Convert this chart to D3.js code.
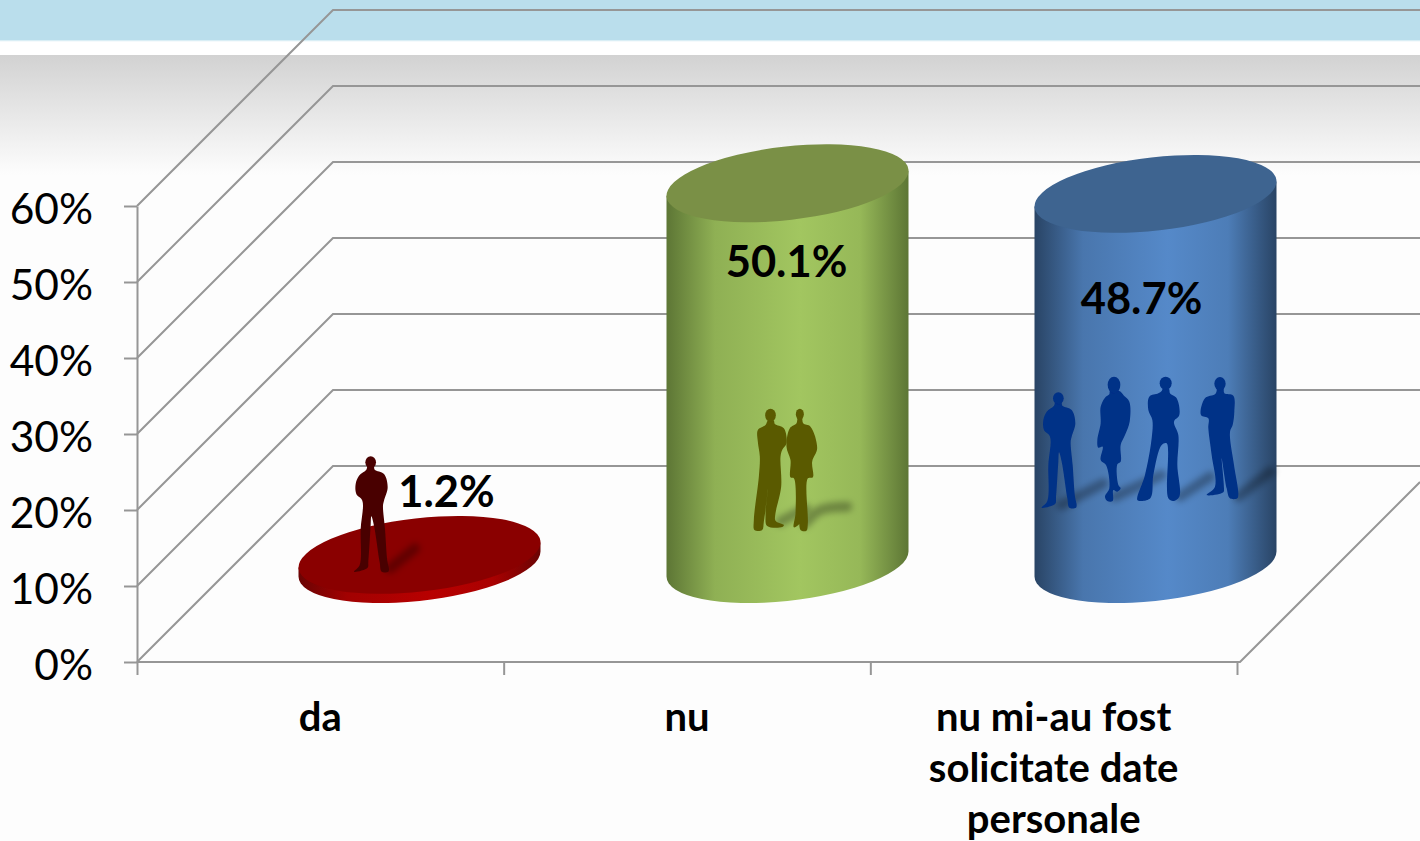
<!DOCTYPE html>
<html lang="en">
<head>
  <meta charset="UTF-8">
  <title>Date personale</title>
  <style>
    html, body { margin: 0; padding: 0; background: #fdfdfd; overflow: hidden; }
    svg { display: block; font-family: Lato, "Open Sans", sans-serif; }
    .axis path, .axis line, .grid { stroke: #969696; stroke-width: 2; fill: none; }
    .axis text { fill: #000; font-size: 42.5px; font-family: Lato, "Open Sans", sans-serif; }
    .value, .cat { font-weight: 700; fill: #000; text-anchor: middle; }
    .value { font-size: 43.5px; }
    .cat { font-size: 40px; }
  </style>
</head>
<body>
  <svg id="chart" width="1420" height="841"></svg>
  <script src="https://d3js.org/d3.v7.min.js"></script>
  <script>
    const categories = ["da", "nu", "nu mi-au fost|solicitate date|personale"];
    const values = [1.2, 50.1, 48.7];
    const valueLabels = ["1.2%", "50.1%", "48.7%"];
    const yTicks = [0, 10, 20, 30, 40, 50, 60];

    const themes = [
      { edge: "#6a0404", mid: "#b80000", top: "#8a0000", man: "#4a0000" },
      { edge: "#5d7635", mid: "#a2c660", top: "#7a9046", man: "#5a5a00" },
      { edge: "#294465", mid: "#5589c9", top: "#3e6490", man: "#003087" }
    ];

    // silhouette outlines, drawn at 3x and scaled down. head = cx, cy, rx, ry
    const manCrossed = { head: [85, 100, 16, 18], body: [[94,112],[97,122],[125,135],[136,175],[125,215],[122,230],[128,300],[135,395],[140,420],[138,428],[118,428],[112,400],[95,290],[87,262],[85,290],[78,400],[76,416],[35,428],[52,408],[55,300],[60,215],[42,195],[40,165],[50,140],[72,122],[76,112]] };
    const manSide = { head: [570, 56, 17, 20], body: [[561,70],[580,70],[583,85],[610,92],[613,140],[608,180],[600,200],[612,300],[625,385],[622,400],[600,400],[590,370],[575,280],[582,370],[580,382],[530,390],[555,365],[545,270],[535,190],[535,160],[513,150],[525,100],[555,88],[560,78]] };
    const womanSkirt = { head: [252, 60, 19, 25], body: [[240,78],[268,78],[282,92],[298,110],[299,170],[285,210],[272,240],[272,290],[262,298],[265,360],[272,370],[262,380],[250,375],[248,408],[232,408],[225,395],[238,370],[228,300],[212,285],[218,245],[205,248],[202,225],[212,175],[212,125],[225,98],[238,88]] };
    const womanTrousers = { head: [407, 55, 18, 20], body: [[398,72],[417,72],[420,85],[440,100],[448,150],[432,170],[445,210],[442,300],[448,395],[430,408],[415,400],[410,235],[395,240],[370,330],[362,398],[335,408],[322,405],[345,330],[365,220],[367,165],[355,135],[358,95],[385,85],[395,78]] };
    const manLeft = { head: [120, 76, 16, 20], body: [[112,92],[130,92],[133,102],[160,115],[168,160],[155,180],[150,200],[152,290],[135,370],[135,392],[160,405],[155,411],[110,408],[105,375],[113,295],[100,395],[95,420],[72,420],[70,390],[85,260],[88,200],[82,155],[82,120],[105,105]] };
    const manCoat = { head: [208, 73, 12, 17], body: [[202,85],[214,85],[218,100],[240,110],[260,175],[245,215],[247,262],[232,265],[232,400],[228,422],[210,420],[212,320],[208,400],[190,412],[195,370],[190,265],[180,262],[180,210],[168,170],[178,115],[198,100]] };

    const people = [[manCrossed], [manLeft, manCoat], [manCrossed, womanSkirt, womanTrousers, manSide]];
    const shadows = [
      [[[330,385],[405,325]]],
      [[[150,395],[225,355]], [[225,400],[270,360],[350,350]]],
      [[[95,420],[220,355]], [[255,395],[395,330]], [[450,395],[540,335]], [[625,395],[720,320]]]
    ];
    // where each group's 3x drawing starts, relative to cylinder centre and floor
    const figureOffset = [[-139.5, -124], [-57, -174], [-125.5, -199]];
    const figureShift = [[187, -33], [0, 0], [0, 0]];
    const valueOffset = [[27, -57], [-1, -287], [-14, -250]];

    const svg = d3.select("#chart");
    const defs = svg.append("defs");

    const depth = 196;
    const y = d3.scaleLinear().domain([0, 60]).range([662, 206]);
    const xBand = d3.scaleBand().domain(categories).range([137, 1237]);
    const xCyl = d3.scalePoint().domain(categories).range([419.5, 1155.5]);
    const xEdges = d3.scaleLinear().domain([0, 3]).range([137, 1237]);

    // background
    const bg = defs.append("linearGradient").attr("id", "bgFade").attr("x1", 0).attr("x2", 0).attr("y1", 0).attr("y2", 1);
    bg.append("stop").attr("offset", 0).attr("stop-color", "#d2d2d2");
    bg.append("stop").attr("offset", 1).attr("stop-color", "#fdfdfd");
    svg.append("rect").attr("width", 1420).attr("height", 841).attr("fill", "#fdfdfd");
    svg.append("rect").attr("width", 1420).attr("height", 40).attr("fill", "#badeec");
    svg.append("rect").attr("y", 40).attr("width", 1420).attr("height", 1.5).attr("fill", "#d9eef5");
    svg.append("rect").attr("y", 41.5).attr("width", 1420).attr("height", 13.5).attr("fill", "#fff");
    svg.append("rect").attr("y", 55).attr("width", 1420).attr("height", 120).attr("fill", "url(#bgFade)");

    // walls
    const grid = svg.append("g");
    yTicks.forEach(t => {
      grid.append("path").attr("class", "grid")
        .attr("d", d3.line()([[137, y(t)], [137 + depth, y(t) - depth], [1420, y(t) - depth]]));
    });
    grid.append("path").attr("class", "grid")
      .attr("d", d3.line()([[1420, 662 - (1420 - 1240)], [1240, 662], [137, 662]]));

    // axes
    const yAxis = svg.append("g").attr("class", "axis").attr("transform", "translate(137,0)")
      .call(d3.axisLeft(y).tickValues(yTicks).tickFormat(d => d + "%").tickSize(13).tickSizeOuter(0).tickPadding(31));
    yAxis.selectAll("text").attr("dy", "0.4em");
    svg.append("g").attr("class", "axis").attr("transform", "translate(0,662)")
      .call(d3.axisBottom(xEdges).tickValues([0, 1, 2, 3]).tickFormat("").tickSize(13).tickSizeOuter(0))
      .select(".domain").remove();

    const soft = defs.append("filter").attr("id", "soft").attr("filterUnits", "userSpaceOnUse")
      .attr("x", -50).attr("y", 220).attr("width", 900).attr("height", 280);
    soft.append("feGaussianBlur").attr("stdDeviation", 10);
    defs.append("filter").attr("id", "edge")
      .append("feGaussianBlur").attr("stdDeviation", 1);

    // cylinders
    const a = 121.7, b = 36.7, tilt = -6.5, halfW = 121, lean = 12.5;
    const floorY = y(0) - depth / 2;
    const ht = v => y(0) - y(v);
    const outline = d3.line().curve(d3.curveCatmullRomClosed.alpha(0.5));
    const curve = d3.line().curve(d3.curveCatmullRom);

    categories.forEach((cat, i) => {
      const cx = xCyl(cat);
      const top = floorY - ht(values[i]);
      const th = themes[i];

      const grad = defs.append("linearGradient").attr("id", "side" + i);
      grad.append("stop").attr("offset", 0).attr("stop-color", th.edge);
      grad.append("stop").attr("offset", 0.2).attr("stop-color", d3.interpolateRgb(th.edge, th.mid)(0.72));
      grad.append("stop").attr("offset", 0.55).attr("stop-color", th.mid);
      grad.append("stop").attr("offset", 0.8).attr("stop-color", d3.interpolateRgb(th.edge, th.mid)(0.82));
      grad.append("stop").attr("offset", 1).attr("stop-color", th.edge);

      svg.append("path").attr("fill", `url(#side${i})`)
        .attr("d", `M${cx - halfW},${top + lean} L${cx - halfW},${floorY + lean} A${a},${b} ${tilt} 0 0 ${cx + halfW},${floorY - lean} L${cx + halfW},${top - lean} Z`);
      svg.append("ellipse").attr("fill", th.top)
        .attr("rx", a).attr("ry", b)
        .attr("transform", `translate(${cx},${top}) rotate(${tilt})`);

      // shadows then people
      const g = svg.append("g")
        .attr("transform", `translate(${cx + figureOffset[i][0]},${floorY + figureOffset[i][1]}) scale(${1 / 3})`);
      shadows[i].forEach(s => {
        g.append("path").attr("d", curve(s)).attr("fill", "none")
          .attr("stroke", "#000").attr("stroke-opacity", 0.3).attr("stroke-width", 30)
          .attr("stroke-linecap", "round").attr("filter", "url(#soft)");
      });
      const fig = g.append("g").attr("transform", `translate(${figureShift[i][0]},${figureShift[i][1]})`);
      people[i].forEach(p => {
        const f = fig.append("g").attr("fill", th.man).attr("filter", "url(#edge)");
        f.append("path").attr("d", outline(p.body));
        f.append("ellipse").attr("cx", p.head[0]).attr("cy", p.head[1]).attr("rx", p.head[2]).attr("ry", p.head[3]);
      });
    });

    // value labels
    svg.selectAll(".value").data(values).join("text")
      .attr("class", "value")
      .attr("x", (d, i) => xCyl(categories[i]) + valueOffset[i][0])
      .attr("y", (d, i) => floorY + valueOffset[i][1])
      .text((d, i) => valueLabels[i]);

    // category labels
    categories.forEach(cat => {
      cat.split("|").forEach((line, j) => {
        svg.append("text").attr("class", "cat")
          .attr("x", xBand(cat) + xBand.bandwidth() / 2)
          .attr("y", 731 + j * 51)
          .text(line);
      });
    });
  </script>
</body>
</html>
